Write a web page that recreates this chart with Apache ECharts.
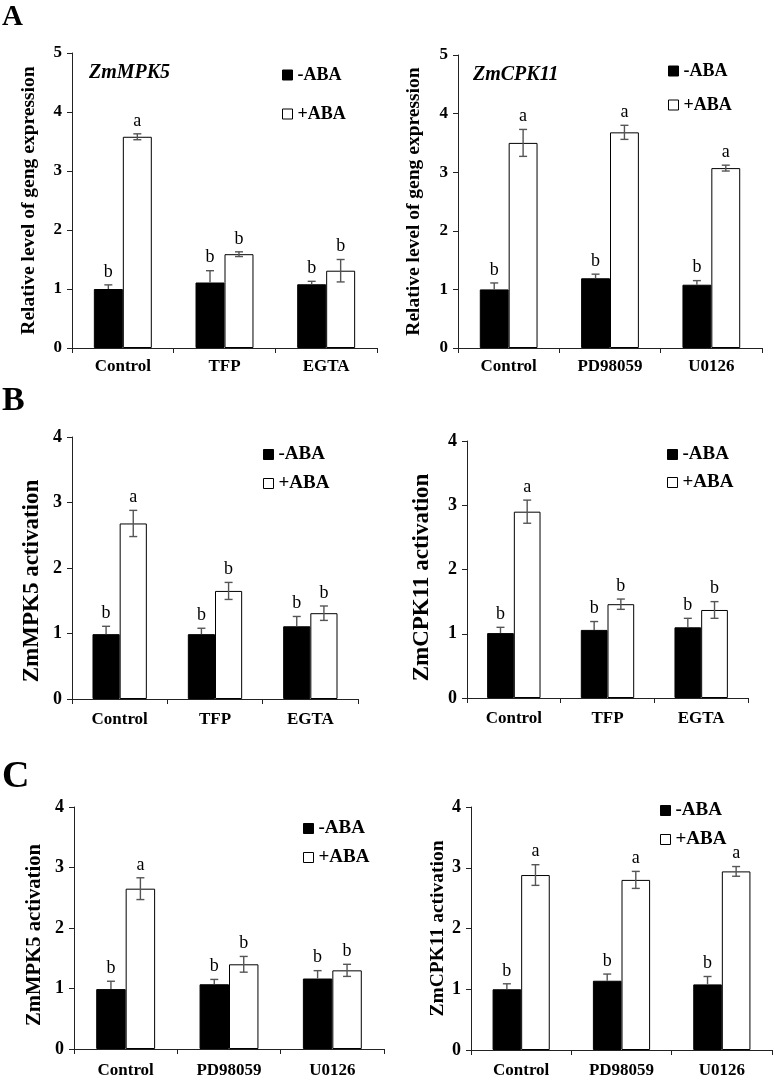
<!DOCTYPE html>
<html>
<head>
<meta charset="utf-8">
<script src="https://cdn.jsdelivr.net/npm/echarts@6/dist/echarts.min.js"></script>
<style>
html,body{margin:0;padding:0;background:#fff;}
#c{width:773px;height:1079px;}
</style>
</head>
<body>
<div id="c"></div>
<script>
// ---------- DATA ----------
const catsA = ['Control', 'TFP', 'EGTA'];
const catsB = ['Control', 'PD98059', 'U0126'];

// Panel A left: ZmMPK5 relative expression
const a1Neg = [1.00, 1.11, 1.08];
const a1NegErr = [0.07, 0.20, 0.05];
const a1Pos = [3.58, 1.59, 1.31];
const a1PosErr = [0.05, 0.04, 0.19];
const a1NegSig = ['b', 'b', 'b'];
const a1PosSig = ['a', 'b', 'b'];

// Panel A right: ZmCPK11 relative expression
const a2Neg = [1.00, 1.19, 1.08];
const a2NegErr = [0.11, 0.07, 0.07];
const a2Pos = [3.50, 3.68, 3.07];
const a2PosErr = [0.23, 0.12, 0.05];
const a2NegSig = ['b', 'b', 'b'];
const a2PosSig = ['a', 'a', 'a'];

// Panel B left: ZmMPK5 activation
const b1Neg = [0.99, 0.99, 1.11];
const b1NegErr = [0.12, 0.09, 0.15];
const b1Pos = [2.68, 1.65, 1.31];
const b1PosErr = [0.20, 0.13, 0.11];
const b1NegSig = ['b', 'b', 'b'];
const b1PosSig = ['a', 'b', 'b'];

// Panel B right: ZmCPK11 activation
const b2Neg = [1.01, 1.06, 1.10];
const b2NegErr = [0.09, 0.13, 0.14];
const b2Pos = [2.90, 1.46, 1.37];
const b2PosErr = [0.18, 0.08, 0.13];
const b2NegSig = ['b', 'b', 'b'];
const b2PosSig = ['a', 'b', 'b'];

// Panel C left: ZmMPK5 activation
const c1Neg = [0.99, 1.07, 1.165];
const c1NegErr = [0.13, 0.08, 0.13];
const c1Pos = [2.65, 1.40, 1.30];
const c1PosErr = [0.18, 0.13, 0.10];
const c1NegSig = ['b', 'b', 'b'];
const c1PosSig = ['a', 'b', 'b'];

// Panel C right: ZmCPK11 activation
const c2Neg = [1.00, 1.14, 1.08];
const c2NegErr = [0.09, 0.11, 0.13];
const c2Pos = [2.88, 2.80, 2.94];
const c2PosErr = [0.17, 0.14, 0.08];
const c2NegSig = ['b', 'b', 'b'];
const c2PosSig = ['a', 'a', 'a'];

const yTitleA = 'Relative level of geng expression';
const yTitleMPK = 'ZmMPK5 activation';
const yTitleCPK = 'ZmCPK11 activation';
const legendNames = ['-ABA', '+ABA'];

// ---------- LAYOUT ----------
const SERIF = '"Liberation Serif", "Times New Roman", serif';
const BW = 0.285;

const panels = [
  {cats: catsA, neg: a1Neg, negErr: a1NegErr, pos: a1Pos, posErr: a1PosErr, negSig: a1NegSig, posSig: a1PosSig,
   max: 5, ytitle: yTitleA,
   grid: {left: 72, top: 53, width: 305, height: 295}, tick: 17, cat: 17, catMargin: 10, name: 19.5, nameGap: 33, nameShift: 0, sigSize: 18,
   legend: {left: 277, top: 61, gap: 21, font: 18}},
  {cats: catsB, neg: a2Neg, negErr: a2NegErr, pos: a2Pos, posErr: a2PosErr, negSig: a2NegSig, posSig: a2PosSig,
   max: 5, ytitle: yTitleA,
   grid: {left: 458, top: 55, width: 304, height: 293}, tick: 17, cat: 17, catMargin: 10, name: 19.5, nameGap: 34, nameShift: 0, sigSize: 18,
   legend: {left: 663, top: 57, gap: 16, font: 18}},
  {cats: catsA, neg: b1Neg, negErr: b1NegErr, pos: b1Pos, posErr: b1PosErr, negSig: b1NegSig, posSig: b1PosSig,
   max: 4, ytitle: yTitleMPK,
   grid: {left: 72, top: 437, width: 286, height: 262}, tick: 18, cat: 17, catMargin: 12, name: 23, nameGap: 28, nameShift: 13, sigSize: 18,
   legend: {left: 258, top: 440, gap: 10, font: 19}},
  {cats: catsA, neg: b2Neg, negErr: b2NegErr, pos: b2Pos, posErr: b2PosErr, negSig: b2NegSig, posSig: b2PosSig,
   max: 4, ytitle: yTitleCPK,
   grid: {left: 467, top: 441, width: 281, height: 257}, tick: 18, cat: 17, catMargin: 12, name: 23, nameGap: 33, nameShift: 8, sigSize: 18,
   legend: {left: 662, top: 440, gap: 9, font: 19}},
  {cats: catsB, neg: c1Neg, negErr: c1NegErr, pos: c1Pos, posErr: c1PosErr, negSig: c1NegSig, posSig: c1PosSig,
   max: 4, ytitle: yTitleMPK,
   grid: {left: 74, top: 807, width: 310, height: 246}, tick: 18, cat: 17, catMargin: 13, name: 20.7, nameGap: 29, nameShift: 7, sigSize: 18,
   legend: {left: 298, top: 814, gap: 10, font: 19}},
  {cats: catsB, neg: c2Neg, negErr: c2NegErr, pos: c2Pos, posErr: c2PosErr, negSig: c2NegSig, posSig: c2PosSig,
   max: 4, ytitle: yTitleCPK,
   grid: {left: 471, top: 807, width: 301, height: 244}, tick: 18, cat: 17, catMargin: 12, name: 19.5, nameGap: 23, nameShift: 0, sigSize: 18,
   legend: {left: 655, top: 796, gap: 10, font: 19}}
];

function errRenderer(side, sigArr, fontSize) {
  return function (params, api) {
    const ci = api.value(0), v = api.value(1), e = api.value(2);
    const band = api.size([1, 0])[0];
    const bw = band * BW;
    const cx = api.coord([ci, 0])[0] + side * bw / 2;
    const yTop = api.coord([ci, v + e])[1];
    const yMid = api.coord([ci, v])[1];
    const yBot = api.coord([ci, v - e])[1];
    const cap = 4;
    const st = {stroke: '#555', lineWidth: 1.4};
    const children = [];
    if (side < 0) {
      children.push({type: 'line', shape: {x1: cx, y1: yMid, x2: cx, y2: yTop}, style: st});
    } else {
      children.push({type: 'line', shape: {x1: cx, y1: yBot, x2: cx, y2: yTop}, style: st});
      children.push({type: 'line', shape: {x1: cx - cap, y1: yBot, x2: cx + cap, y2: yBot}, style: st});
    }
    children.push({type: 'line', shape: {x1: cx - cap, y1: yTop, x2: cx + cap, y2: yTop}, style: st});
    children.push({
      type: 'text',
      style: {
        text: sigArr[params.dataIndex], x: cx, y: yTop - 4,
        textAlign: 'center', textVerticalAlign: 'bottom',
        fontFamily: SERIF, fontSize: fontSize, fill: '#000'
      }
    });
    return {type: 'group', children: children};
  };
}

const option = {
  animation: false,
  backgroundColor: '#fff',
  title: [
    {text: 'A', left: -3, top: -2, textStyle: {fontFamily: SERIF, fontWeight: 'bold', fontSize: 29, color: '#000'}},
    {text: 'B', left: -3, top: 379, textStyle: {fontFamily: SERIF, fontWeight: 'bold', fontSize: 34, color: '#000'}},
    {text: 'C', left: -3, top: 753, textStyle: {fontFamily: SERIF, fontWeight: 'bold', fontSize: 38, color: '#000'}},
    {text: 'ZmMPK5', left: 84, top: 58, textStyle: {fontFamily: SERIF, fontWeight: 'bold', fontStyle: 'italic', fontSize: 20, color: '#000'}},
    {text: 'ZmCPK11', left: 468, top: 60, textStyle: {fontFamily: SERIF, fontWeight: 'bold', fontStyle: 'italic', fontSize: 20, color: '#000'}}
  ],
  grid: [], xAxis: [], yAxis: [], series: [], legend: []
};

panels.forEach(function (p, i) {
  option.grid.push(Object.assign({containLabel: false}, p.grid));
  option.xAxis.push({
    type: 'category', gridIndex: i, data: p.cats,
    axisLine: {lineStyle: {color: '#222', width: 1}},
    axisTick: {show: true, length: 5, lineStyle: {color: '#222'}},
    axisLabel: {fontFamily: SERIF, fontWeight: 'bold', fontSize: p.cat, color: '#000', margin: p.catMargin}
  });
  option.yAxis.push({
    type: 'value', gridIndex: i, min: 0, max: p.max, interval: 1,
    name: p.ytitle, nameLocation: 'middle', nameRotate: 90, nameGap: p.nameGap,
    nameTextStyle: {fontFamily: SERIF, fontWeight: 'bold', fontSize: p.name, color: '#000',
      padding: [0, p.nameShift * 2, 0, 0]},
    axisLine: {show: true, lineStyle: {color: '#222', width: 1}},
    axisTick: {show: true, length: 5, lineStyle: {color: '#222'}},
    splitLine: {show: false},
    axisLabel: {fontFamily: SERIF, fontWeight: 'bold', fontSize: p.tick, color: '#000', margin: 10}
  });
  option.series.push({
    name: '-ABA', type: 'bar', xAxisIndex: i, yAxisIndex: i, data: p.neg,
    barWidth: (BW * 100) + '%', barGap: '0%',
    itemStyle: {color: '#000', borderColor: '#000', borderWidth: 1}
  });
  option.series.push({
    name: '+ABA', type: 'bar', xAxisIndex: i, yAxisIndex: i, data: p.pos,
    barWidth: (BW * 100) + '%', barGap: '0%',
    itemStyle: {color: '#fff', borderColor: '#000', borderWidth: 1}
  });
  option.series.push({
    type: 'custom', xAxisIndex: i, yAxisIndex: i, z: 5,
    data: p.neg.map(function (v, k) { return [k, v, p.negErr[k]]; }),
    renderItem: errRenderer(-1, p.negSig, p.sigSize)
  });
  option.series.push({
    type: 'custom', xAxisIndex: i, yAxisIndex: i, z: 5,
    data: p.pos.map(function (v, k) { return [k, v, p.posErr[k]]; }),
    renderItem: errRenderer(1, p.posSig, p.sigSize)
  });
  option.legend.push({
    orient: 'vertical', left: p.legend.left, top: p.legend.top,
    itemWidth: 10, itemHeight: 10, itemGap: p.legend.gap,
    selectedMode: false,
    textStyle: {fontFamily: SERIF, fontWeight: 'bold', fontSize: p.legend.font, color: '#000'},
    data: [
      {name: legendNames[0], icon: 'rect', itemStyle: {color: '#000', borderColor: '#000', borderWidth: 1}},
      {name: legendNames[1], icon: 'rect', itemStyle: {color: '#fff', borderColor: '#000', borderWidth: 1}}
    ]
  });
});

const chart = echarts.init(document.getElementById('c'), null, {renderer: 'canvas'});
chart.setOption(option);
</script>
</body>
</html>
